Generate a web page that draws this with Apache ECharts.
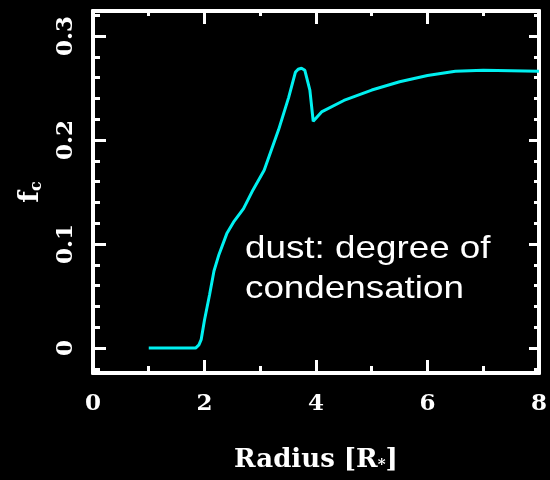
<!DOCTYPE html>
<html>
<head>
<meta charset="utf-8">
<script src="https://cdn.jsdelivr.net/npm/echarts@6/dist/echarts.min.js"></script>
<style>
  html, body { margin: 0; padding: 0; background: #000; }
  #chart { width: 550px; height: 480px; }
</style>
</head>
<body>
<div id="chart"></div>
<script>
// radius in stellar radii
var radius = [1.0, 1.84, 1.9, 1.94, 2.0, 2.09, 2.17, 2.26, 2.4, 2.52, 2.7, 2.87, 3.07,
  3.33, 3.51, 3.63, 3.68, 3.74, 3.8, 3.89, 3.95, 4.1, 4.5, 5.0, 5.5, 6.0, 6.5, 7.0, 8.0];
// degree of condensation f_c
var fc = [0, 0, 0.003, 0.008, 0.027, 0.051, 0.074, 0.09, 0.11, 0.121, 0.134, 0.152, 0.171,
  0.21, 0.241, 0.265, 0.268, 0.269, 0.267, 0.248, 0.218, 0.227, 0.238, 0.248, 0.256, 0.262, 0.266, 0.267, 0.266];

var yMajor = [0, 0.1, 0.2, 0.3];
var yMinor = [-0.02, 0.02, 0.04, 0.06, 0.08, 0.12, 0.14, 0.16, 0.18, 0.22, 0.24, 0.26, 0.28, 0.32];

var axisFont = "DejaVu Serif";
var white = "#fff";

var data = radius.map(function (r, i) { return [r, fc[i]]; });

var myChart = echarts.init(document.getElementById("chart"));

function yAx(pos, ticks, len, labels) {
  return {
    type: "value",
    position: pos,
    min: -0.024,
    max: 0.324,
    splitLine: { show: false },
    axisLine: { show: true, onZero: false, lineStyle: { color: white, width: 4 } },
    axisTick: {
      show: true, inside: true, length: len, customValues: ticks,
      lineStyle: { color: white, width: 3 }
    },
    axisLabel: labels ? {
      show: true, customValues: yMajor, rotate: 90, margin: 15,
      color: white, fontFamily: axisFont, fontWeight: "bold", fontSize: 23
    } : { show: false }
  };
}

function xAx(pos, minorLen) {
  return {
    type: "value", position: pos, min: 0, max: 8, interval: 2,
    splitLine: { show: false },
    axisLine: { onZero: false, lineStyle: { color: white, width: 4 } },
    axisTick: { inside: true, length: 13, lineStyle: { color: white, width: 3 } },
    minorTick: { show: true, splitNumber: 2, length: minorLen, lineStyle: { color: white, width: 3 } },
    axisLabel: { show: false }
  };
}

var option = {
  backgroundColor: "#000",
  animation: false,
  grid: { left: 93, right: 1, top: 11, bottom: 107 },
  xAxis: [
    Object.assign(xAx("bottom", 7), {
      axisLabel: { color: white, fontFamily: axisFont, fontWeight: "bold", fontSize: 23, margin: 20 },
      name: "{a|Radius [R}{s|*}{a|]}",
      nameLocation: "middle",
      nameGap: 74,
      nameTextStyle: {
        rich: {
          a: { color: white, fontFamily: axisFont, fontWeight: "bold", fontSize: 26 },
          s: { color: white, fontFamily: axisFont, fontWeight: "bold", fontSize: 15, padding: [10, 0, 0, 0] }
        }
      }
    }),
    xAx("top", 5)
  ],
  yAxis: [
    Object.assign(yAx("left", yMajor, 13, true), {
      name: "{f|f}{c|c}",
      nameLocation: "middle",
      nameRotate: 90,
      nameGap: 48,
      nameTextStyle: {
        rich: {
          f: { color: white, fontFamily: axisFont, fontWeight: "bold", fontSize: 27 },
          c: { color: white, fontFamily: axisFont, fontWeight: "bold", fontSize: 16, padding: [12, 0, 0, 0] }
        }
      }
    }),
    yAx("left", yMinor, 7, false),
    yAx("right", yMajor, 10, false),
    yAx("right", yMinor, 5, false)
  ],
  graphic: [
    {
      type: "text", x: 245, y: 249, scaleX: 1.15,
      style: {
        text: "dust: degree of", fill: white,
        font: "32px 'Liberation Sans', Arial, sans-serif", verticalAlign: "middle"
      }
    },
    {
      type: "text", x: 245, y: 289, scaleX: 1.15,
      style: {
        text: "condensation", fill: white,
        font: "32px 'Liberation Sans', Arial, sans-serif", verticalAlign: "middle"
      }
    }
  ],
  series: [
    {
      type: "line",
      data: data,
      xAxisIndex: 0,
      yAxisIndex: 0,
      symbol: "none",
      smooth: false,
      color: "#00f0f0",
      lineStyle: { width: 3 }
    }
  ]
};

myChart.setOption(option);
</script>
</body>
</html>
